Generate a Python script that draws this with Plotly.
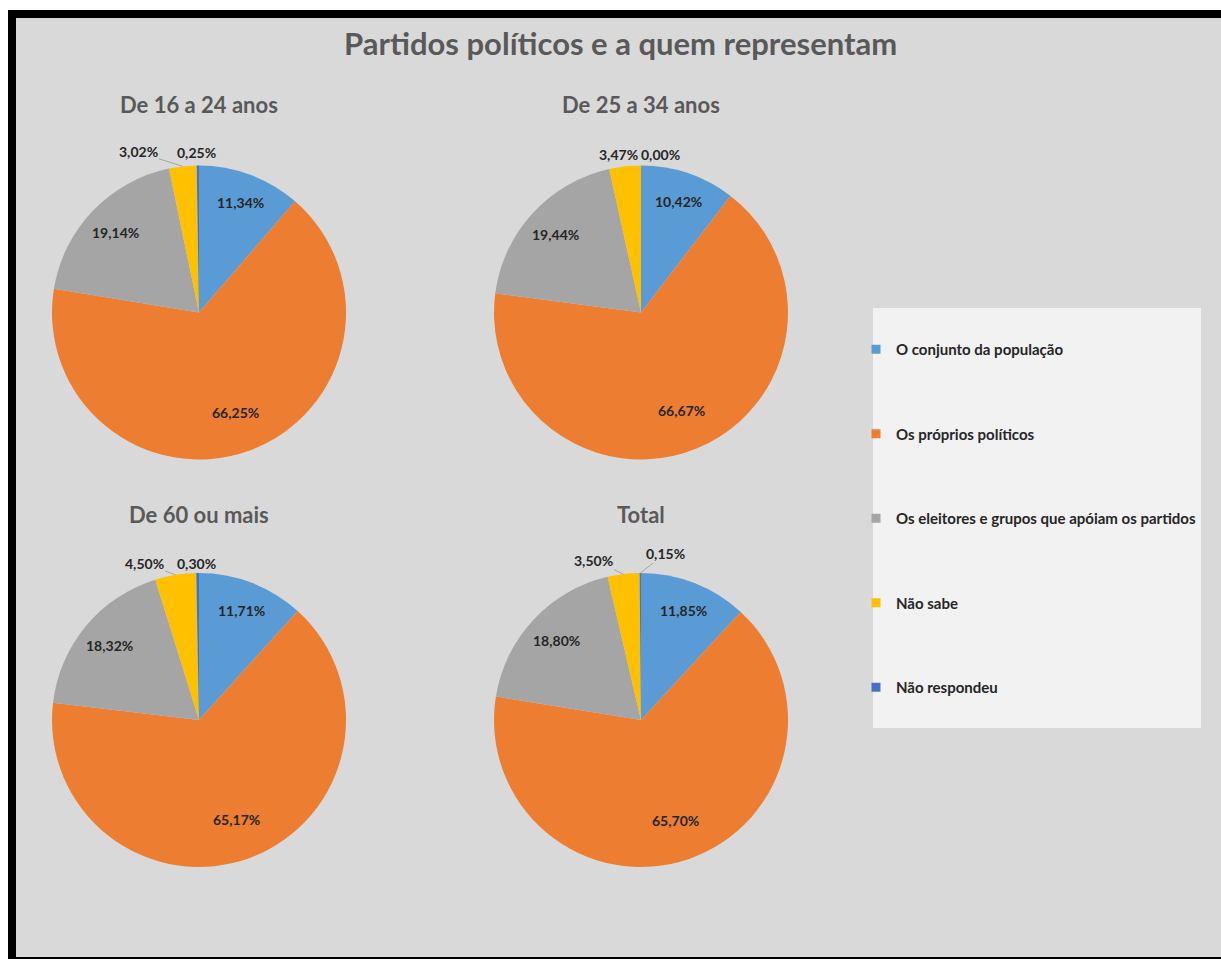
import math
import plotly.graph_objects as go

# ---- data ----
categories = [
    "O conjunto da população",
    "Os próprios políticos",
    "Os eleitores e grupos que apóiam os partidos",
    "Não sabe",
    "Não respondeu",
]
groups = ["De 16 a 24 anos", "De 25 a 34 anos", "De 60 ou mais", "Total"]
v_16_24 = [11.34, 66.25, 19.14, 3.02, 0.25]
v_25_34 = [10.42, 66.67, 19.44, 3.47, 0.00]
v_60_mais = [11.71, 65.17, 18.32, 4.50, 0.30]
v_total = [11.85, 65.70, 18.80, 3.50, 0.15]
main_title = "Partidos políticos e a quem representam"

series = [v_16_24, v_25_34, v_60_mais, v_total]
colors = ["#5B9BD5", "#ED7D31", "#A5A5A5", "#FFC000", "#4472C4"]

# ---- layout / style (page pixels) ----
FONT = "Lato"
LABEL_COLOR = "#262626"
W, H = 1221, 959

centers = [(199, 312.5), (641, 312.5), (199, 720), (641, 720)]
R = 147
title_y = [105, 105, 514, 514]
INSIDE_R = [0.8, 0.72, 0.79]  # fraction of the radius where inside labels sit
# text centres of the two small (outside) labels of every pie, and leader flags
outside_pos = [
    [(138, 152), (196.5, 152)],
    [(618.5, 154), (660, 154)],
    [(144, 563), (196, 563)],
    [(593, 560), (666, 553)],
]
outside_leader = [[True, False], [False, False], [True, False], [True, True]]


def px(x):
    return x / W


def py(y):
    return 1 - y / H


def fmt(v):
    return f"{v:.2f}%".replace(".", ",")


def slice_point(vals, i, cx, cy, r):
    tot = sum(vals)
    mid = (sum(vals[:i]) + vals[i] / 2) / tot
    th = 2 * math.pi * mid
    return cx + r * math.sin(th), cy - r * math.cos(th)


fig = go.Figure()
annotations = []
lab_font = dict(family=FONT, size=14, color=LABEL_COLOR, weight="bold")

for k, (vals, (cx, cy)) in enumerate(zip(series, centers)):
    fig.add_trace(go.Pie(
        labels=categories,
        values=vals,
        text=[fmt(v) for v in vals],
        textinfo="none",
        marker=dict(colors=colors, line=dict(width=0)),
        sort=False,
        direction="clockwise",
        rotation=0,
        showlegend=False,
        hoverinfo="label+text",
        domain=dict(x=[px(cx - R), px(cx + R)], y=[py(cy + R), py(cy - R)]),
    ))
    # inside labels (first three slices)
    for i in range(3):
        x, y = slice_point(vals, i, cx, cy, INSIDE_R[i] * R)
        annotations.append(dict(
            text=fmt(vals[i]), x=px(x), y=py(y), xref="paper", yref="paper",
            showarrow=False, xanchor="center", yanchor="middle", font=lab_font,
        ))
    # outside labels (last two slices)
    for j, i in enumerate([3, 4]):
        tx, ty = outside_pos[k][j]
        if outside_leader[k][j]:
            ex, ey = slice_point(vals, i, cx, cy, R)
            annotations.append(dict(
                text=fmt(vals[i]), x=px(ex), y=py(ey), xref="paper", yref="paper",
                ax=tx - ex, ay=ty - ey, showarrow=True, arrowhead=0,
                arrowwidth=1, arrowcolor="#A6A6A6", standoff=0, startstandoff=0,
                font=lab_font,
            ))
        else:
            annotations.append(dict(
                text=fmt(vals[i]), x=px(tx), y=py(ty), xref="paper", yref="paper",
                showarrow=False, xanchor="center", yanchor="middle", font=lab_font,
            ))

# legend entries
for i, (cat, col) in enumerate(zip(categories, colors)):
    fig.add_trace(go.Scatter(
        x=[None], y=[None], mode="markers", name=cat,
        marker=dict(symbol="square", size=9, color=col),
        legendgroup=f"g{i}", showlegend=True, hoverinfo="skip",
    ))

annotations.append(dict(
    text=main_title, x=px(620), y=py(43), xref="paper", yref="paper",
    showarrow=False, xanchor="center", yanchor="middle",
    font=dict(family=FONT, size=31, color="#595959", weight="bold"),
))
for g, (cx, cy), ty in zip(groups, centers, title_y):
    annotations.append(dict(
        text=g, x=px(cx), y=py(ty), xref="paper", yref="paper",
        showarrow=False, xanchor="center", yanchor="middle",
        font=dict(family=FONT, size=22, color="#595959", weight="bold"),
    ))

shapes = [
    # legend background
    dict(type="rect", xref="paper", yref="paper", layer="below",
         x0=px(873), x1=px(1201), y0=py(728), y1=py(308),
         fillcolor="#F2F2F2", line=dict(width=0)),
    # outer frame
    dict(type="rect", xref="paper", yref="paper", x0=0, x1=1, y0=py(10), y1=1,
         fillcolor="white", line=dict(width=0)),
    dict(type="rect", xref="paper", yref="paper", x0=0, x1=px(8), y0=0, y1=1,
         fillcolor="white", line=dict(width=0)),
    dict(type="rect", xref="paper", yref="paper", x0=px(8), x1=1, y0=py(18), y1=py(10),
         fillcolor="black", line=dict(width=0)),
    dict(type="rect", xref="paper", yref="paper", x0=px(8), x1=px(16), y0=0, y1=py(10),
         fillcolor="black", line=dict(width=0)),
    dict(type="rect", xref="paper", yref="paper", x0=px(8), x1=1, y0=0, y1=py(957),
         fillcolor="black", line=dict(width=0)),
]

fig.update_layout(
    width=W, height=H,
    margin=dict(l=0, r=0, t=0, b=0),
    paper_bgcolor="#D9D9D9", plot_bgcolor="rgba(0,0,0,0)",
    xaxis=dict(visible=False), yaxis=dict(visible=False),
    annotations=annotations, shapes=shapes,
    legend=dict(
        x=px(856), y=py(333), xanchor="left", yanchor="top",
        bgcolor="rgba(0,0,0,0)", tracegroupgap=62,
        font=dict(family=FONT, size=15, color="#262626", weight="bold"),
        itemclick=False, itemdoubleclick=False,
    ),
    font=dict(family=FONT),
)

fig.write_html(
    "out.html",
    config={"displayModeBar": False},
    post_script="document.body.style.margin='0px';document.body.style.overflow='hidden';",
)
